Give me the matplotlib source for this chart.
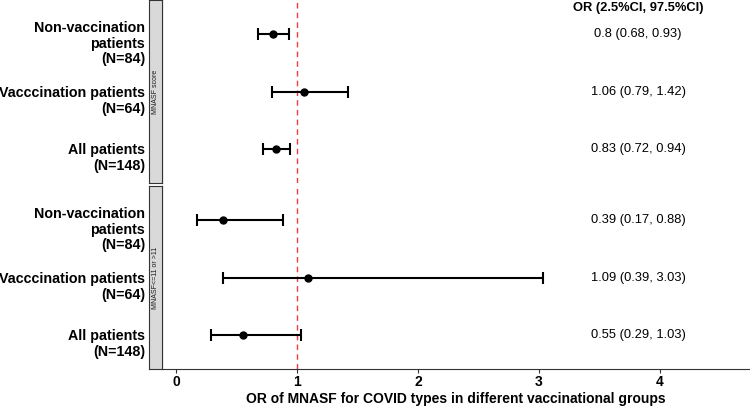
import numpy as np
import matplotlib
matplotlib.use("Agg")
import matplotlib.pyplot as plt
from matplotlib.transforms import offset_copy

plt.rcParams['font.family'] = ['Liberation Sans', 'DejaVu Sans']

groups = ["Non-vaccination\npatients\n(N=84)", "Vacccination patients\n(N=64)", "All patients\n(N=148)"]
panels = ["MNASF score", "MNASF<=11 or >11"]
or_vals = [[0.8, 1.06, 0.83], [0.39, 1.09, 0.55]]
ci_low = [[0.68, 0.79, 0.72], [0.17, 0.39, 0.29]]
ci_high = [[0.93, 1.42, 0.94], [0.88, 3.03, 1.03]]
xticks = [0, 1, 2, 3, 4]

W, H = 750, 407
PX = 72 / 100  # points per pixel
fig = plt.figure(figsize=(7.5, 4.07), dpi=100)

ypos = np.array([3, 2, 1])
axes_px = [(0, 183), (186, 369)]
dark = "#333333"
txt_x = 3.82

for p in range(2):
    top, bot = axes_px[p]
    ax = fig.add_axes([162 / W, (H - bot) / H, 588 / W, (bot - top) / H])
    ax.set_xlim(-0.116, 4.744)
    ax.set_ylim(0.4, 3.6)
    for s in ["top", "right"]:
        ax.spines[s].set_visible(False)
    ax.spines["left"].set_color(dark)
    ax.spines["left"].set_linewidth(0.8)
    ax.axvline(1, color="#f03c3c", ls=(0, (4, 3)), lw=1.0, zorder=1)
    lo = np.array(ci_low[p]); hi = np.array(ci_high[p]); v = np.array(or_vals[p])
    ax.errorbar(v, ypos, xerr=[v - lo, hi - v], fmt="o", color="black", ms=5,
                elinewidth=1.5, capsize=4, capthick=1.5, zorder=3)
    ax.set_yticks(ypos)
    ax.set_yticklabels([])
    ax.tick_params(axis="y", length=3, color=dark, width=0.8)
    trans = offset_copy(ax.get_yaxis_transform(), fig=fig, x=-17 * PX, y=-9.5 * PX, units="points")
    for k, g in enumerate(groups):
        ax.text(0, ypos[k], g, transform=trans, ha="right", va="center",
                fontsize=10.3, fontweight="bold", linespacing=1.13)
    for k in range(3):
        ax.text(txt_x, ypos[k], f"{or_vals[p][k]} ({ci_low[p][k]}, {ci_high[p][k]})",
                ha="center", va="center", fontsize=9.3)
    if p == 0:
        ax.spines["bottom"].set_visible(False)
        ax.set_xticks([])
        hdr = offset_copy(ax.get_xaxis_transform(), fig=fig, y=-8 * PX, units="points")
        ax.text(txt_x, 1, "OR (2.5%CI, 97.5%CI)", transform=hdr,
                ha="center", va="center", fontsize=9.3, fontweight="bold")
    else:
        ax.spines["bottom"].set_color(dark)
        ax.spines["bottom"].set_linewidth(0.8)
        ax.set_xticks(xticks)
        ax.set_xticklabels([str(t) for t in xticks], fontsize=10, fontweight="bold")
        ax.tick_params(axis="x", length=3, color=dark, width=0.8, pad=1)
        ax.set_xlabel("OR of MNASF for COVID types in different vaccinational groups",
                      fontsize=10, fontweight="bold", labelpad=2.5)
    # strip
    sax = fig.add_axes([149 / W, (H - bot) / H, 13 / W, (bot - top) / H])
    sax.set_facecolor("#d9d9d9")
    sax.set_xticks([]); sax.set_yticks([])
    for s in sax.spines.values():
        s.set_color(dark)
        s.set_linewidth(0.8)
    sax.text(0.5, 0.5, panels[p], rotation=90, ha="center", va="center",
             fontsize=5, color="#1a1a1a", transform=sax.transAxes)

fig.savefig("out.png", dpi=100)
